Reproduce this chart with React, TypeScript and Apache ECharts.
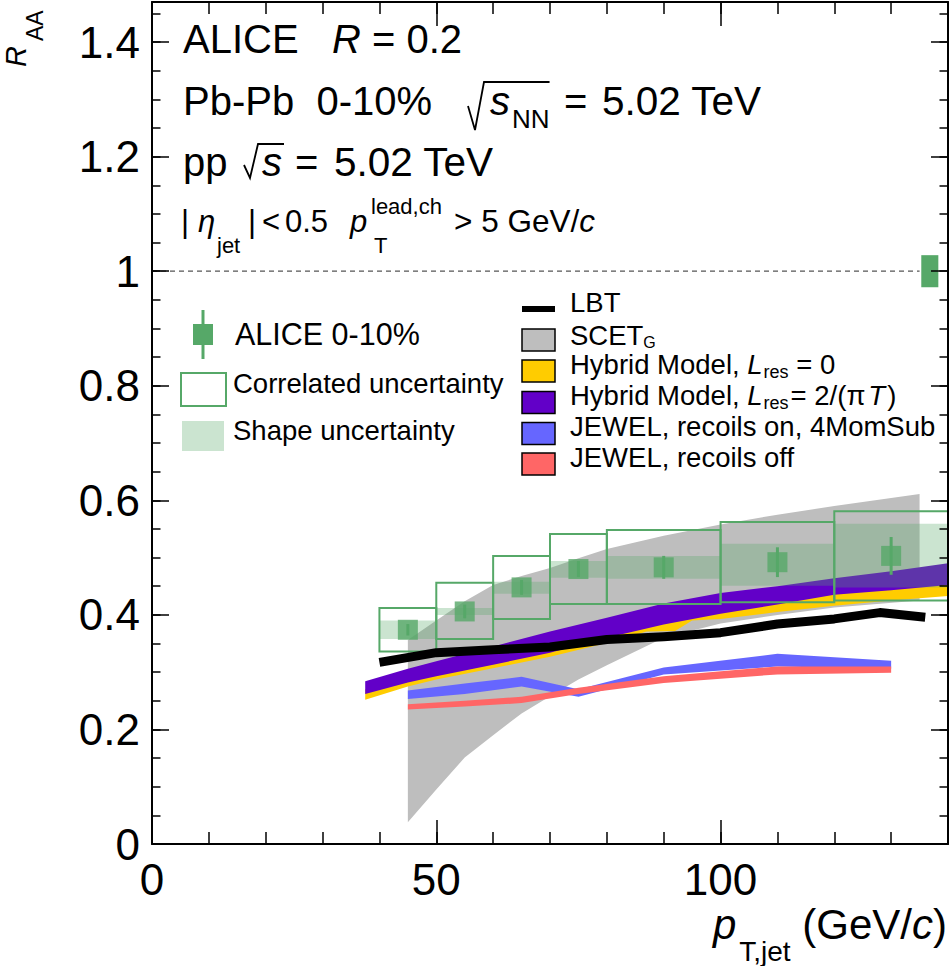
import { useEffect, useRef } from 'react';
import * as echarts from 'echarts';

const FONT = '"Liberation Sans", Arial, Helvetica, sans-serif';

// ALICE 0-10% points, stat errors and uncertainty boxes
const ptX = [45, 55, 65, 75, 90, 110, 130];
const ptY = [0.374, 0.406, 0.448, 0.48, 0.483, 0.492, 0.503];
const statErr = [0.01, 0.012, 0.013, 0.014, 0.02, 0.026, 0.033];
const binLo = [40, 50, 60, 70, 80, 100, 120];
const binHi = [50, 60, 70, 80, 100, 120, 140];
const corrLo = [0.336, 0.358, 0.393, 0.419, 0.419, 0.422, 0.425];
const corrHi = [0.412, 0.456, 0.503, 0.541, 0.548, 0.562, 0.581];
const shapeLo = [0.358, 0.4, 0.437, 0.465, 0.463, 0.451, 0.448];
const shapeHi = [0.39, 0.412, 0.458, 0.494, 0.503, 0.524, 0.559];
const normX = [135.3, 138.3];
const normY = [0.972, 1.028];

// SCET_G band
const scetX = [45, 50, 55, 60, 65, 70, 75, 80, 90, 100, 110, 120, 135];
const scetLo = [0.038, 0.095, 0.151, 0.19, 0.228, 0.258, 0.287, 0.312, 0.36, 0.385, 0.4, 0.413, 0.425];
const scetHi = [0.356, 0.39, 0.424, 0.452, 0.468, 0.482, 0.499, 0.515, 0.538, 0.558, 0.575, 0.59, 0.611];

// Hybrid model, L_res = 0
const hyb0X = [37.5, 45, 50, 60, 70, 80, 87, 92, 95, 100, 110, 120, 130, 140];
const hyb0Lo = [0.252, 0.275, 0.287, 0.307, 0.327, 0.351, 0.371, 0.372, 0.39, 0.393, 0.405, 0.416, 0.425, 0.433];
const hyb0Hi = [0.27, 0.29, 0.3, 0.322, 0.345, 0.37, 0.388, 0.398, 0.405, 0.41, 0.425, 0.442, 0.452, 0.46];

// Hybrid model, L_res = 2/(pi T)
const hyb2X = [37.5, 45, 50, 60, 70, 80, 90, 100, 110, 120, 130, 140];
const hyb2Lo = [0.262, 0.282, 0.293, 0.313, 0.334, 0.36, 0.383, 0.402, 0.418, 0.435, 0.443, 0.452];
const hyb2Hi = [0.284, 0.306, 0.319, 0.345, 0.371, 0.395, 0.42, 0.438, 0.45, 0.464, 0.476, 0.49];

// LBT
const lbtX = [40, 50, 60, 70, 80, 90, 100, 110, 120, 128, 136];
const lbtY = [0.317, 0.334, 0.339, 0.344, 0.357, 0.362, 0.369, 0.384, 0.393, 0.404, 0.396];

// JEWEL recoils on / off
const jewX = [45, 55, 65, 75, 90, 110, 130];
const jonLo = [0.253, 0.262, 0.275, 0.257, 0.296, 0.31, 0.306];
const jonHi = [0.268, 0.28, 0.292, 0.27, 0.308, 0.332, 0.32];
const joffLo = [0.235, 0.24, 0.246, 0.262, 0.281, 0.296, 0.299];
const joffHi = [0.244, 0.25, 0.257, 0.273, 0.293, 0.31, 0.31];

const GREEN = '#56a868';
const SHADE = 'rgba(86,168,104,0.31)';
const GRAY = '#bebebe';
const YELLOW = '#ffcc00';
const PURPLE = '#6200c8';
const BLUE = '#6666ff';
const RED = '#ff6666';

let measureCtx: CanvasRenderingContext2D | null = null;
function textWidth(t: string, size: number, italic?: boolean) {
  if (!measureCtx) measureCtx = document.createElement('canvas').getContext('2d');
  measureCtx!.font = `${italic ? 'italic ' : ''}${size}px ${FONT}`;
  return measureCtx!.measureText(t).width;
}

type Run = { t: string; s: number; it?: boolean; dy?: number; at?: number; dx?: number };

// lays out text pieces on one baseline (sub/superscripts via dy)
function runs(x0: number, base: number, list: Run[], fill = '#000') {
  let x = x0;
  const out: any[] = [];
  for (const r of list) {
    if (r.at !== undefined) x = r.at;
    x += r.dx ?? 0;
    out.push({
      type: 'text',
      x,
      y: base + (r.dy ?? 0) - 0.35 * r.s,
      silent: true,
      style: {
        text: r.t,
        font: `${r.it ? 'italic ' : ''}${r.s}px ${FONT}`,
        fill,
        textAlign: 'left',
        verticalAlign: 'middle',
      },
    });
    x += textWidth(r.t, r.s, r.it);
  }
  return out;
}

function band(name: string, xs: number[], lo: number[], hi: number[], color: string) {
  return {
    type: 'custom',
    name,
    silent: true,
    data: xs.map((x, i) => [x, lo[i], hi[i]]),
    renderItem: (params: any, api: any) => {
      if (params.dataIndex !== 0) return null;
      const top = xs.map((x, i) => api.coord([x, hi[i]]));
      const bot = xs.map((x, i) => api.coord([x, lo[i]])).reverse();
      return { type: 'polygon', shape: { points: top.concat(bot) }, style: { fill: color } };
    },
  };
}

function boxes(name: string, lo: number[], hi: number[], style: any) {
  return {
    type: 'custom',
    name,
    silent: true,
    data: binLo.map((x, i) => [x, binHi[i], lo[i], hi[i]]),
    renderItem: (_: any, api: any) => {
      const a = api.coord([api.value(0), api.value(3)]);
      const b = api.coord([api.value(1), api.value(2)]);
      return {
        type: 'rect',
        shape: { x: a[0], y: a[1], width: b[0] - a[0], height: b[1] - a[1] },
        style,
      };
    },
  };
}

function axisX(position: string, interval: number, len: number, main: boolean) {
  return {
    type: 'value',
    position,
    min: 0,
    max: 140,
    interval,
    z: 10,
    axisLine: { show: main, onZero: false, lineStyle: { color: '#000', width: 2 } },
    splitLine: { show: false },
    axisTick: { show: true, inside: true, length: len, lineStyle: { color: '#000', width: 1.5 } },
    axisLabel: {
      show: main && position === 'bottom',
      fontSize: 44,
      color: '#000',
      margin: 13,
      fontFamily: FONT,
      showMaxLabel: false,
    },
  };
}

function axisY(position: string, interval: number, len: number, main: boolean) {
  return {
    type: 'value',
    position,
    min: 0,
    max: 1.47,
    interval,
    z: 10,
    axisLine: { show: main, onZero: false, lineStyle: { color: '#000', width: 2 } },
    splitLine: { show: false },
    axisTick: { show: true, inside: true, length: len, lineStyle: { color: '#000', width: 1.5 } },
    axisLabel: {
      show: main && position === 'left',
      fontSize: 44,
      color: '#000',
      margin: 12,
      fontFamily: FONT,
      showMaxLabel: false,
    },
  };
}

function radical(pts: number[][]) {
  return { type: 'polyline', silent: true, shape: { points: pts }, style: { stroke: '#000', lineWidth: 1.8 } };
}

function legendBox(y: number, fill: string) {
  return {
    type: 'rect',
    silent: true,
    shape: { x: 522, y: y - 11, width: 33, height: 22 },
    style: { fill, stroke: '#000', lineWidth: 1.5 },
  };
}

export default function App() {
  const ref = useRef<HTMLDivElement>(null);

  useEffect(() => {
    if (!ref.current) return;
    const chart = echarts.init(ref.current, undefined, { renderer: 'svg' });

    const xs2 = 490; // "s" of sqrt(s_NN)
    const nnEnd = xs2 + textWidth('s', 40, true) + 2 + textWidth('NN', 26);
    const xs3 = 262;
    const s3End = xs3 + textWidth('s', 40, true) + 2;

    const graphic: any[] = [
      // header
      ...runs(183, 53, [{ t: 'ALICE', s: 40 }, { t: 'R', s: 40, it: true, at: 332 }, { t: ' = 0.2', s: 40 }]),
      ...runs(183, 115, [
        { t: 'Pb-Pb  0-10%', s: 40 },
        { t: 's', s: 40, it: true, at: xs2 },
        { t: 'NN', s: 26, dy: 13, dx: 2 },
        { t: '=', s: 40, at: 564 },
        { t: '5.02 TeV', s: 40.5, at: 602 },
      ]),
      radical([[xs2 - 22, 106], [xs2 - 15, 130], [xs2 - 6, 82], [nnEnd, 82]]),
      ...runs(183, 176, [
        { t: 'pp', s: 40 },
        { t: 's', s: 40, it: true, at: xs3 },
        { t: '=', s: 40, at: 295 },
        { t: '5.02 TeV', s: 40.5, at: 334 },
      ]),
      radical([[xs3 - 18, 165], [xs3 - 12, 178], [xs3 - 4, 144], [s3End, 144]]),
      ...runs(181, 232, [
        { t: '|', s: 31 },
        { t: 'η', s: 31, it: true, at: 198 },
        { t: 'jet', s: 22, dy: 21, at: 217 },
        { t: '|', s: 31, at: 248 },
        { t: '<', s: 31, at: 262 },
        { t: '0.5', s: 31, at: 285 },
        { t: 'p', s: 31, it: true, at: 350 },
        { t: 'lead,ch', s: 22, dy: -18, at: 371 },
        { t: 'T', s: 22, dy: 21, at: 374 },
        { t: '> 5 GeV/', s: 31.5, at: 454 },
        { t: 'c', s: 31.5, it: true },
      ]),

      // left legend
      { type: 'line', silent: true, shape: { x1: 203, y1: 310, x2: 203, y2: 359 }, style: { stroke: GREEN, lineWidth: 3 } },
      { type: 'rect', silent: true, shape: { x: 193, y: 324, width: 20, height: 21 }, style: { fill: GREEN } },
      ...runs(235, 345, [{ t: 'ALICE 0-10%', s: 30.5 }]),
      { type: 'rect', silent: true, shape: { x: 181, y: 373, width: 45, height: 33 }, style: { fill: 'none', stroke: GREEN, lineWidth: 2 } },
      ...runs(233, 393, [{ t: 'Correlated uncertainty', s: 27.5 }]),
      { type: 'rect', silent: true, shape: { x: 182, y: 421, width: 42, height: 30 }, style: { fill: SHADE } },
      ...runs(233, 440, [{ t: 'Shape uncertainty', s: 27.5 }]),

      // right legend
      { type: 'rect', silent: true, shape: { x: 522, y: 306, width: 33, height: 6 }, style: { fill: '#000' } },
      ...runs(570, 312, [{ t: 'LBT', s: 27.5 }]),
      legendBox(340, GRAY),
      ...runs(570, 345, [{ t: 'SCET', s: 27.5 }, { t: 'G', s: 16, dy: 3 }]),
      legendBox(371, YELLOW),
      ...runs(570, 374, [
        { t: 'Hybrid Model, ', s: 27.5 },
        { t: 'L', s: 27.5, it: true },
        { t: 'res', s: 18, dy: 4, dx: 1 },
        { t: ' = 0', s: 27.5 },
      ]),
      legendBox(402.5, PURPLE),
      ...runs(570, 405, [
        { t: 'Hybrid Model, ', s: 27.5 },
        { t: 'L', s: 27.5, it: true },
        { t: 'res', s: 18, dy: 4, dx: 1 },
        { t: '= 2/(', s: 27.5, dx: 2 },
        { t: 'π', s: 27.5 },
        { t: 'T', s: 27.5, it: true, dx: 3 },
        { t: ')', s: 27.5, dx: 2 },
      ]),
      legendBox(433.5, BLUE),
      ...runs(570, 436, [{ t: 'JEWEL, recoils on, 4MomSub', s: 27.5 }]),
      legendBox(464, RED),
      ...runs(570, 467, [{ t: 'JEWEL, recoils off', s: 27.5 }]),

      // y axis title
      {
        type: 'group',
        x: 26,
        y: 67,
        rotation: Math.PI / 2,
        children: runs(0, 0, [{ t: 'R', s: 29, it: true }, { t: 'AA', s: 23, dy: 17, dx: 5 }]),
      },
    ];

    const xTitle: Run[] = [
      { t: 'p', s: 42, it: true },
      { t: 'T,jet', s: 28, dy: 22, dx: 3 },
      { t: ' (GeV/', s: 42 },
      { t: 'c', s: 42, it: true },
      { t: ')', s: 42 },
    ];
    const titleW =
      textWidth('p', 42, true) + 3 + textWidth('T,jet', 28) + textWidth(' (GeV/', 42) + textWidth('c', 42, true) + textWidth(')', 42);
    graphic.push(...runs(947 - titleW, 939, xTitle));

    const option: any = {
      animation: false,
      textStyle: { fontFamily: FONT },
      grid: { left: 152, right: 2, top: 2, bottom: 122 },
      xAxis: [axisX('bottom', 50, 24, true), axisX('bottom', 10, 12, false), axisX('top', 50, 24, true), axisX('top', 10, 12, false)],
      yAxis: [axisY('left', 0.2, 17, true), axisY('left', 0.05, 8.5, false), axisY('right', 0.2, 17, true), axisY('right', 0.05, 8.5, false)],
      series: [
        band('SCET_G', scetX, scetLo, scetHi, GRAY),
        band('Hybrid Model, L_res = 0', hyb0X, hyb0Lo, hyb0Hi, YELLOW),
        band('Hybrid Model, L_res = 2/(πT)', hyb2X, hyb2Lo, hyb2Hi, PURPLE),
        {
          type: 'line',
          name: 'LBT',
          silent: true,
          data: lbtX.map((x, i) => [x, lbtY[i]]),
          showSymbol: false,
          symbol: 'none',
          lineStyle: { color: '#000', width: 9, cap: 'butt', join: 'round' },
        },
        band('JEWEL, recoils on, 4MomSub', jewX, jonLo, jonHi, BLUE),
        band('JEWEL, recoils off', jewX, joffLo, joffHi, RED),
        {
          type: 'line',
          name: 'unity',
          silent: true,
          data: [[0, 1], [normX[0] - 0.3, 1]],
          showSymbol: false,
          symbol: 'none',
          lineStyle: { color: '#555', width: 1.2, type: [5, 4] },
        },
        boxes('Shape uncertainty', shapeLo, shapeHi, { fill: SHADE }),
        boxes('Correlated uncertainty', corrLo, corrHi, { fill: 'none', stroke: GREEN, lineWidth: 2 }),
        {
          type: 'custom',
          name: 'Normalisation',
          silent: true,
          data: [[normX[0], normX[1], normY[0], normY[1]]],
          renderItem: (_: any, api: any) => {
            const a = api.coord([api.value(0), api.value(3)]);
            const b = api.coord([api.value(1), api.value(2)]);
            return { type: 'rect', shape: { x: a[0], y: a[1], width: b[0] - a[0], height: b[1] - a[1] }, style: { fill: GREEN } };
          },
        },
        {
          type: 'custom',
          name: 'stat',
          silent: true,
          data: ptX.map((x, i) => [x, ptY[i] - statErr[i], ptY[i] + statErr[i]]),
          renderItem: (_: any, api: any) => {
            const a = api.coord([api.value(0), api.value(1)]);
            const b = api.coord([api.value(0), api.value(2)]);
            return { type: 'line', shape: { x1: a[0], y1: a[1], x2: b[0], y2: b[1] }, style: { stroke: GREEN, lineWidth: 3 } };
          },
        },
        {
          type: 'scatter',
          name: 'ALICE 0-10%',
          silent: true,
          data: ptX.map((x, i) => [x, ptY[i]]),
          symbol: 'rect',
          symbolSize: 20,
          itemStyle: { color: GREEN },
        },
      ],
      graphic,
    };

    chart.setOption(option);
    return () => chart.dispose();
  }, []);

  return (
    <div
      ref={ref}
      style={{ position: 'fixed', left: 0, top: 0, width: 950, height: 966, background: '#fff' }}
    />
  );
}
